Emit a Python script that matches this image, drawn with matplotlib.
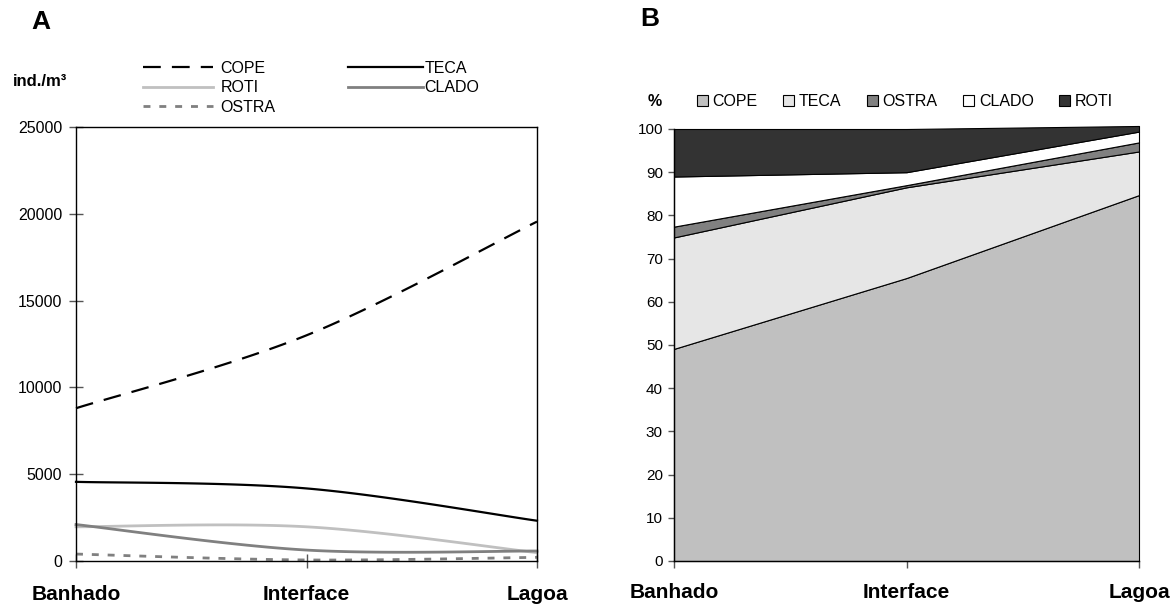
import numpy as np
import matplotlib
matplotlib.use("Agg")
import matplotlib.pyplot as plt
from matplotlib.patches import Patch

plt.rcParams['font.family'] = ['Liberation Sans', 'DejaVu Sans']

# ---------------- data ----------------
sites = ["Banhado", "Interface", "Lagoa"]

# Panel A: density (ind./m3)
cope_a = [8800, 13000, 19550]
teca_a = [4560, 4180, 2320]
roti_a = [1970, 1970, 480]
clado_a = [2100, 630, 575]
ostra_a = [400, 60, 210]

# Panel B: relative composition (%)
cope_b = [49.1, 65.5, 84.7]
teca_b = [25.8, 21.0, 10.1]
ostra_b = [2.5, 0.5, 2.1]
clado_b = [11.6, 3.0, 2.5]
roti_b = [11.0, 10.0, 1.3]

a_yticks = [0, 5000, 10000, 15000, 20000, 25000]
b_yticks = list(range(0, 101, 10))


def smooth(y, n=60):
    """Excel-style smoothed line (Catmull-Rom as cubic Bezier) through the points."""
    x = np.arange(len(y), dtype=float)
    P = np.column_stack([x, np.asarray(y, dtype=float)])
    m = len(P)
    xs, ys = [], []
    t = np.linspace(0, 1, n)
    for i in range(m - 1):
        p0 = P[max(i - 1, 0)]
        p1 = P[i]
        p2 = P[i + 1]
        p3 = P[min(i + 2, m - 1)]
        c1 = p1 + (p2 - p0) / 6.0
        c2 = p2 - (p3 - p1) / 6.0
        b = ((1 - t) ** 3)[:, None] * p1 + (3 * (1 - t) ** 2 * t)[:, None] * c1 \
            + (3 * (1 - t) * t ** 2)[:, None] * c2 + (t ** 3)[:, None] * p2
        xs.append(b[:, 0])
        ys.append(b[:, 1])
    return np.concatenate(xs), np.concatenate(ys)


W, H = 1176, 610
fig = plt.figure(figsize=(W / 100, H / 100), dpi=100)

def fx(px):
    return px / W

def fy(py):
    return 1 - py / H

# ---------------- Panel A ----------------
axA = fig.add_axes([fx(76), fy(561), fx(537) - fx(76), fy(127) - fy(561)])
x = np.arange(len(sites))

styles_a = [
    ("COPE", cope_a, dict(color="black", lw=1.6, dashes=(8, 5))),
    ("TECA", teca_a, dict(color="black", lw=1.6)),
    ("ROTI", roti_a, dict(color="#c0c0c0", lw=2.0)),
    ("CLADO", clado_a, dict(color="#808080", lw=2.0)),
    ("OSTRA", ostra_a, dict(color="#808080", lw=2.0, dashes=(2.5, 3.2))),
]
handles = {}
for name, vals, st in styles_a:
    sx, sy = smooth(vals)
    (ln,) = axA.plot(sx, sy, label=name, clip_on=False, **st)
    handles[name] = ln

axA.set_xlim(0, 2)
axA.set_ylim(0, 25000)
axA.set_yticks(a_yticks)
axA.set_yticklabels([str(v) for v in a_yticks], fontsize=11.5)
axA.set_xticks(x)
axA.set_xticklabels(sites, fontsize=15, fontweight="bold")
axA.tick_params(axis="y", direction="inout", length=10, width=1, color="#555555", pad=5)
axA.tick_params(axis="x", direction="inout", length=10, width=1, color="#555555", pad=12)
for s in axA.spines.values():
    s.set_linewidth(1.0)
    s.set_color("black")

fig.legend([handles["COPE"], handles["ROTI"], handles["OSTRA"]],
           ["COPE", "ROTI", "OSTRA"], loc="upper left",
           bbox_to_anchor=(fx(143), fy(61)), frameon=False, fontsize=11.5,
           handlelength=4.4, handletextpad=0.45, labelspacing=0.27,
           borderpad=0, borderaxespad=0)
fig.legend([handles["TECA"], handles["CLADO"]], ["TECA", "CLADO"],
           loc="upper left", bbox_to_anchor=(fx(348), fy(61)), frameon=False,
           fontsize=11.5, handlelength=4.7, handletextpad=0.1, labelspacing=0.27,
           borderpad=0, borderaxespad=0)

fig.text(fx(40), fy(82), "ind./m³", fontsize=12, fontweight="bold", ha="center", va="center")
fig.text(fx(41), fy(22), "A", fontsize=19, fontweight="bold", ha="center", va="center")

# ---------------- Panel B ----------------
axB = fig.add_axes([fx(674), fy(561), fx(1139) - fx(674), fy(129) - fy(561)])
layers = [
    ("COPE", cope_b, "#c0c0c0"),
    ("TECA", teca_b, "#e6e6e6"),
    ("OSTRA", ostra_b, "#808080"),
    ("CLADO", clado_b, "#ffffff"),
    ("ROTI", roti_b, "#333333"),
]
base = np.zeros(len(sites))
patches = []
for name, vals, col in layers:
    top = base + np.asarray(vals)
    axB.fill_between(x, base, top, facecolor=col, edgecolor="black", linewidth=0.8,
                     clip_on=False, zorder=2)
    patches.append(Patch(facecolor=col, edgecolor="black", linewidth=0.8, label=name))
    base = top

axB.set_xlim(0, 2)
axB.set_ylim(0, 100)
axB.set_yticks(b_yticks)
axB.set_yticklabels([str(v) for v in b_yticks], fontsize=11)
axB.set_xticks(x)
axB.set_xticklabels(sites, fontsize=15, fontweight="bold")
axB.tick_params(axis="y", direction="out", length=4, width=1, color="#555555", pad=4)
axB.tick_params(axis="x", direction="out", length=5, width=1, color="#555555", pad=11)
axB.spines["top"].set_visible(False)
axB.spines["right"].set_visible(False)
axB.spines["left"].set_zorder(3)
axB.spines["bottom"].set_zorder(3)
for s in ("left", "bottom"):
    axB.spines[s].set_linewidth(1.0)

fig.legend(handles=patches, loc="center left", bbox_to_anchor=(fx(697), fy(102)),
           ncol=5, frameon=False, fontsize=11.5, handlelength=0.68, handleheight=0.68,
           handletextpad=0.3, columnspacing=1.6, borderpad=0, borderaxespad=0)

fig.text(fx(655), fy(102), "%", fontsize=11.5, fontweight="bold", ha="center", va="center")
fig.text(fx(650), fy(19), "B", fontsize=19, fontweight="bold", ha="center", va="center")

fig.savefig("out.png", dpi=100)
